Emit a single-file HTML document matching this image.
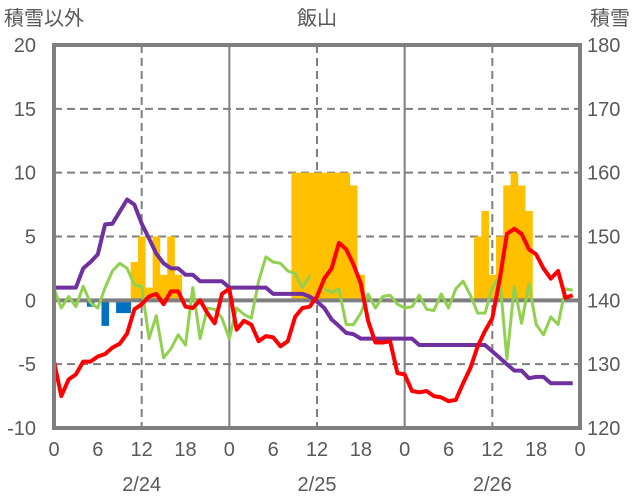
<!DOCTYPE html>
<html><head><meta charset="utf-8">
<style>
body{margin:0;background:#fff;}
svg{display:block;font-family:"Liberation Sans","Noto Sans CJK JP",sans-serif;}
</style></head>
<body>
<svg id="chart" width="636" height="501" viewBox="0 0 636 501" xmlns="http://www.w3.org/2000/svg"></svg>
<script>
const hours = Array.from({length:72},(_, i)=>i);
const xTickHours = [0,6,12,18,24,30,36,42,48,54,60,66,72];
const xTickLabels = ["0","6","12","18","0","6","12","18","0","6","12","18","0"];
const dateLabels = ["2/24","2/25","2/26"];
const leftTicks = [20,15,10,5,0,-5,-10];
const rightTicks = [180,170,160,150,140,130,120];
const barHours = [5,7,9,10,11,12,13,14,15,16,17,33,34,35,36,37,38,39,40,41,42,58,59,60,61,62,63,64,65];
const barValues = [-0.5,-2,-1,-1,3,5,1,5,2,5,2,10,10,10,10,10,10,10,10,9,2,5,7,2,5,9,10,9,7];
const redValues = [-4.8,-7.5,-6.2,-5.8,-4.8,-4.8,-4.4,-4.2,-3.7,-3.4,-2.6,-0.7,-0.3,0.3,0.5,-0.3,0.7,0.7,-0.5,-0.6,0,-1,-1.8,0.5,0.9,-2.3,-1.6,-1.9,-3.2,-2.8,-2.9,-3.6,-3.2,-1.3,-0.6,-0.5,0.3,1.7,2.5,4.5,4,2.8,1.3,-1.6,-3.3,-3.3,-3.2,-5.7,-5.8,-7.1,-7.2,-7.1,-7.5,-7.6,-7.9,-7.8,-6.5,-5.3,-3.6,-2.4,-1.4,1.6,5.2,5.6,5.2,4,3.6,2.5,1.7,2.3,0.2,0.4];
const greenValues = [0.9,-0.6,0.3,-0.5,1.1,-0.2,-0.6,1,2.3,2.9,2.5,1.2,1.1,-3,-1.2,-4.5,-3.8,-2.7,-3.5,1,-3,-0.6,-0.7,-1.4,-3,-0.6,-1.1,-1.4,1.5,3.4,3,2.9,2.3,2.1,1,1.9,null,0.9,0.6,0.9,-1.9,-1.9,-1,0.5,-0.6,0.3,0.4,-0.3,-0.6,-0.5,0.4,-0.7,-0.8,0.5,-0.6,0.9,1.5,0.4,-1,-1,1,1.9,-4.6,1.1,-1.8,1.3,-1.9,-2.7,-1.3,-1.9,0.9,0.8];
const purpleValues = [142,142,142,142,145,146,147.2,151.9,152,153.9,155.8,155,152,149.7,147.3,145.8,145,145,144,144,143,143,143,143,142,142,142,142,142,142,141,141,141,141,141,140.6,139.8,138.8,137,136,134.9,134.7,134,134,134,134,134,134,134,134,133,133,133,133,133,133,133,133,133,133,132,131,130,129,129,127.8,128,128,127,127,127,127];

const NS="http://www.w3.org/2000/svg";
const svg=document.getElementById('chart');
const X0=54,X1=580,YT=45,YB=428;
const xs=h=>X0+(X1-X0)*h/72;
const yl=v=>YT+(20-v)*(YB-YT)/30;
const yr=v=>YT+(180-v)*(YB-YT)/60;
function mk(tag,attrs,parent){const e=document.createElementNS(NS,tag);for(const k in attrs)e.setAttribute(k,attrs[k]);(parent||svg).appendChild(e);return e;}

// gridlines
leftTicks.forEach(v=>{
  if(v===20||v===-10||v===0)return;
  const g=mk('line',{x1:X0,x2:X1,y1:yl(v),y2:yl(v),stroke:'#7f7f7f','stroke-width':2,'stroke-dasharray':'8,5'});
  
  
});
[12,36,60].forEach(h=>{
  const g=mk('line',{x1:xs(h),x2:xs(h),y1:YT,y2:YB,stroke:'#7f7f7f','stroke-width':2,'stroke-dasharray':'8,5'});
  
  
});
[24,48].forEach(h=>{
  const g=mk('line',{x1:xs(h),x2:xs(h),y1:YT,y2:YB,stroke:'#7f7f7f','stroke-width':2});
  
  
});

// bars
const bw=(X1-X0)/72;
barHours.forEach((h,i)=>{
  const v=barValues[i];
  const y0=yl(0),y1=yl(v);
  const r=mk('rect',{x:xs(h)-bw/2,y:Math.min(y0,y1),width:bw+0.3,height:Math.abs(y1-y0),fill:v>=0?'#ffc000':'#0070c0'});
  
  
});

// zero line
const z=mk('line',{x1:X0,x2:X1,y1:yl(0),y2:yl(0),stroke:'#7f7f7f','stroke-width':4});



function linePath(vals,yf){
  let d='',pen=false;
  vals.forEach((v,i)=>{
    if(v===null){pen=false;return;}
    d+=(pen?'L':'M')+xs(hours[i]).toFixed(1)+','+yf(v).toFixed(1)+' ';pen=true;
  });
  return d;
}
const gp=mk('path',{d:linePath(greenValues,yl),fill:'none',stroke:'#92d050','stroke-width':3,'stroke-linejoin':'round'});


const pp=mk('path',{d:linePath(purpleValues,yr),fill:'none',stroke:'#7030a0','stroke-width':4,'stroke-linejoin':'round'});


const rp=mk('path',{d:linePath(redValues,yl),fill:'none',stroke:'#ff0000','stroke-width':4,'stroke-linejoin':'round'});



// frame
const fr=mk('rect',{x:X0,y:YT,width:X1-X0,height:YB-YT,fill:'none',stroke:'#7f7f7f','stroke-width':4});



function txt(s,x,y,anchor,name,size){
  const t=mk('text',{x:x,y:y,'text-anchor':anchor,'font-size':size||20,fill:'#595959'});
  t.textContent=s;
  
  
  return t;
}
leftTicks.forEach(v=>txt(String(v),36,yl(v)+7,'end','left-tick-label'));
rightTicks.forEach(v=>txt(String(v),587,yr(v)+7,'start','right-tick-label'));
xTickHours.forEach((h,i)=>txt(xTickLabels[i],xs(h),456,'middle','x-tick-label'));
dateLabels.forEach((s,i)=>txt(s,xs(12+24*i),491,'middle','date-label'));
txt('積雪以外',4,25,'start','left-axis-title');
txt('積雪',630,25,'end','right-axis-title');
txt('飯山',317,25,'middle','chart-title');
</script>
</body></html>
